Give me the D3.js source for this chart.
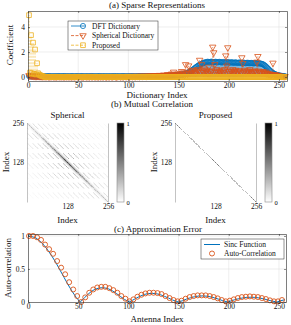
<!DOCTYPE html>
<html>
<head>
<meta charset="utf-8">
<script src="https://cdn.jsdelivr.net/npm/d3@7"></script>
<style>
  body { margin: 0; background: #fff; }
  svg { display: block; font-family: "Liberation Serif", "DejaVu Serif", serif; }
</style>
</head>
<body>
<div id="fig"></div>
<script>
// (a) sparse coefficients, one value per dictionary atom (1..256)
const dictIndex = d3.range(1, 257);

const dftCoef = [
  0.08,0.05,0.06,0.04,0.07,0.05,0.06,0.04,0.05,0.06,0.04,0.05,0.07,0.05,0.04,0.06,
  0.05,0.04,0.06,0.05,0.07,0.04,0.05,0.06,0.04,0.05,0.06,0.05,0.04,0.07,0.05,0.06,
  0.04,0.06,0.05,0.07,0.05,0.04,0.06,0.05,0.05,0.04,0.06,0.07,0.05,0.04,0.05,0.06,
  0.06,0.05,0.04,0.05,0.07,0.06,0.05,0.04,0.06,0.05,0.05,0.06,0.04,0.05,0.07,0.05,
  0.05,0.06,0.05,0.04,0.06,0.05,0.07,0.05,0.04,0.06,0.05,0.05,0.06,0.04,0.05,0.06,
  0.04,0.05,0.06,0.05,0.05,0.07,0.04,0.06,0.05,0.05,0.06,0.04,0.05,0.07,0.06,0.05,
  0.06,0.04,0.05,0.06,0.05,0.05,0.06,0.07,0.05,0.04,0.06,0.05,0.06,0.05,0.07,0.06,
  0.05,0.06,0.07,0.05,0.06,0.06,0.05,0.07,0.06,0.05,0.07,0.06,0.06,0.07,0.05,0.06,
  0.06,0.05,0.07,0.06,0.08,0.07,0.06,0.08,0.09,0.08,0.10,0.09,0.11,0.10,0.12,0.11,
  0.13,0.12,0.14,0.15,0.14,0.16,0.18,0.17,0.20,0.22,0.21,0.25,0.28,0.30,0.34,0.38,
  0.42,0.47,0.52,0.58,0.63,0.70,0.76,0.82,0.88,0.93,0.98,1.02,1.06,1.10,1.13,1.16,
  1.18,1.20,1.22,1.20,1.19,1.21,1.23,1.20,1.18,1.20,1.22,1.19,1.17,1.20,1.21,1.18,
  1.16,1.18,1.20,1.17,1.15,1.18,1.19,1.16,1.14,1.17,1.18,1.15,1.13,1.16,1.17,1.14,
  1.12,1.15,1.16,1.13,1.11,1.14,1.15,1.12,1.10,1.13,1.14,1.11,1.10,1.12,1.13,1.10,
  1.09,1.11,1.12,1.10,1.09,1.10,1.08,1.07,1.05,1.02,0.97,0.91,0.84,0.76,0.68,0.60,
  0.52,0.45,0.38,0.32,0.27,0.23,0.20,0.17,0.15,0.13,0.11,0.10,0.09,0.08,0.07,0.06
];

const sphericalCoef = [
  0.12,0.08,0.15,0.06,0.10,0.05,0.09,0.04,0.07,0.05,0.08,0.04,0.06,0.03,0.05,0.04,
  0.05,0.03,0.06,0.04,0.02,0.05,0.03,0.06,0.04,0.03,0.05,0.02,0.04,0.06,0.03,0.05,
  0.03,0.05,0.04,0.02,0.06,0.03,0.05,0.04,0.03,0.06,0.02,0.04,0.05,0.03,0.04,0.06,
  0.04,0.02,0.05,0.06,0.03,0.04,0.02,0.05,0.06,0.03,0.04,0.05,0.02,0.06,0.04,0.03,
  0.06,0.04,0.03,0.05,0.04,0.02,0.06,0.03,0.05,0.04,0.03,0.06,0.04,0.02,0.05,0.04,
  0.03,0.06,0.04,0.03,0.05,0.06,0.04,0.02,0.04,0.05,0.06,0.03,0.05,0.04,0.03,0.06,
  0.05,0.04,0.06,0.04,0.03,0.05,0.07,0.04,0.06,0.05,0.04,0.07,0.05,0.06,0.04,0.08,
  0.06,0.05,0.08,0.06,0.07,0.05,0.09,0.06,0.08,0.07,0.10,0.06,0.09,0.08,0.12,0.07,
  0.10,0.08,0.14,0.09,0.12,0.10,0.16,0.11,0.14,0.12,0.20,0.10,0.18,0.15,0.25,0.12,
  0.40,0.15,0.20,0.12,0.25,0.10,0.18,0.30,0.45,0.20,0.35,0.15,1.00,0.30,0.25,0.90,
  0.40,0.30,0.50,0.35,0.55,0.40,0.30,0.45,0.60,0.50,1.35,0.40,1.00,0.50,0.35,0.65,
  0.40,0.55,0.30,0.80,0.45,0.35,0.50,2.40,1.95,1.00,0.40,0.60,0.35,0.50,0.45,0.30,
  0.55,0.40,0.35,0.60,1.70,0.88,2.35,0.45,0.30,0.50,0.40,0.60,0.35,0.45,0.55,0.30,
  0.40,0.50,0.48,0.35,1.55,1.10,0.40,0.55,0.30,0.45,0.50,0.35,0.60,0.40,0.30,0.45,
  0.35,0.50,0.40,1.20,1.65,0.48,0.35,0.40,0.30,0.45,0.35,0.30,0.40,0.25,0.30,0.20,
  0.25,0.15,0.20,1.12,0.15,0.20,0.10,0.15,0.08,0.10,0.06,0.08,0.05,0.06,0.04,0.05
];

const proposedCoef = [
  4.95,0.35,3.35,0.30,2.75,0.25,2.20,0.20,1.10,0.30,0.20,0.15,0.10,0.08,0.05,0.03,
  0,0,0,0,0,0,0,0,0,0,0,0,0,0,0,0,
  0,0,0,0,0,0,0,0,0,0,0,0,0,0,0,0,
  0,0,0,0,0,0,0,0,0,0,0,0,0,0,0,0,
  0,0,0,0,0,0,0,0,0,0,0,0,0,0,0,0,
  0,0,0,0,0,0,0,0,0,0,0,0,0,0,0,0,
  0,0,0,0,0,0,0,0,0,0,0,0,0,0,0,0,
  0,0,0,0,0,0,0,0,0,0,0,0,0,0,0,0,
  0,0,0,0,0,0,0,0,0,0,0,0,0,0,0,0,
  0,0,0,0,0,0,0,0,0,0,0,0,0,0,0,0,
  0,0,0,0,0,0,0,0,0,0,0,0,0,0,0,0,
  0,0,0,0,0,0,0,0,0,0,0,0,0,0,0,0,
  0,0,0,0,0,0,0,0,0,0,0,0,0,0,0,0,
  0,0,0,0,0,0,0,0,0,0,0,0,0,0,0,0,
  0,0,0,0,0,0,0,0,0,0,0,0,0,0,0,0,
  0,0,0,0,0,0,0,0,0,0,0,0,0,0,0,0
];

// (b) mutual correlation of the spherical dictionary
// level of the side diagonals, by offset |r - c| / 16
const sphBlockLevel = [1, 0.42, 0.34, 0.28, 0.23, 0.19, 0.16, 0.13, 0.11, 0.09, 0.07, 0.06, 0.05, 0.04, 0.03, 0.03];
// dash profile along a row band of 32 atoms
const sphDashLevel = [0, 0.5, 1, 1, 1, 1, 1, 1, 1, 1, 1, 1, 1, 1, 1, 1,
  1, 1, 1, 1, 0.5, 0, 0, 0, 0, 0, 0, 0, 0, 0, 0, 0];
// strength along the main diagonal, by (r + c) / 32
const sphCenterLevel = [0.45, 0.5, 0.55, 0.62, 0.72, 0.85, 0.95, 1, 1, 0.95, 0.85, 0.72, 0.62, 0.55, 0.5, 0.45];
// halo around the main diagonal, by |r - c|
const sphHaloLevel = [1, 0.5, 0.38, 0.3, 0.24, 0.19, 0.15, 0.12, 0.09, 0.07, 0.05];
const propDiagLevel = 1;

// (c) approximation error
const sincIdx = [0,4,8,12,16,20,24,28,32,36,40,44,48,52,56,60,64,68,72,76,80,84,88,92,96,101,
  104,108,112,116,120,124,128,132,136,140,144,150,154,158,162,166,170,174,178,182,186,190,194,199,
  202,206,210,214,218,222,226,230,234,238,242,248,252,256];
const sincVal = [1,0.99,0.97,0.92,0.86,0.78,0.69,0.59,0.48,0.37,0.26,0.16,0.07,0,
  0.06,0.12,0.17,0.2,0.215,0.215,0.2,0.17,0.13,0.085,0.04,0,
  0.025,0.06,0.09,0.115,0.128,0.13,0.125,0.11,0.085,0.06,0.03,0,
  0.02,0.045,0.065,0.08,0.09,0.092,0.088,0.078,0.062,0.042,0.02,0,
  0.015,0.035,0.05,0.062,0.07,0.072,0.07,0.062,0.05,0.035,0.018,0,
  0.02,0.035];
const acIdx = [1,5,9,13,17,21,25,29,33,37,41,45,49,53,57,61,65,69,73,77,81,85,89,93,97,101,
  105,109,113,117,121,125,129,133,137,141,145,149,153,157,161,165,169,173,177,181,185,189,193,197,
  201,205,209,213,217,221,225,229,233,237,241,245,249,253];
const acVal = [1,1,0.98,0.94,0.87,0.8,0.73,0.62,0.52,0.42,0.3,0.19,0.09,0,
  0.07,0.14,0.19,0.22,0.23,0.23,0.21,0.18,0.14,0.09,0.05,0.01,
  0.04,0.08,0.11,0.13,0.14,0.14,0.135,0.12,0.09,0.06,0.03,0.01,
  0.02,0.05,0.075,0.09,0.1,0.1,0.1,0.09,0.075,0.055,0.03,0.01,
  0.02,0.04,0.06,0.075,0.08,0.085,0.08,0.075,0.06,0.045,0.025,0.01,
  0.01,0.03];

const blue = "#0072BD", orange = "#D95319", yellow = "#EDB120";
const ink = "#262626", gridColor = "#e2e2e2";

const svg = d3.select("#fig").append("svg")
  .attr("width", 291)
  .attr("height", 325);

function grid(x, y, xTicks, yTicks) {
  const [xl, xr] = x.range(), [yb, yt] = y.range();
  const g = svg.append("g").attr("stroke", gridColor).attr("stroke-width", 0.6);
  g.selectAll(null).data(xTicks).join("line")
    .attr("x1", d => x(d)).attr("x2", d => x(d)).attr("y1", yb).attr("y2", yt);
  g.selectAll(null).data(yTicks).join("line")
    .attr("y1", d => y(d)).attr("y2", d => y(d)).attr("x1", xl).attr("x2", xr);
}

function frame(x, y, xTicks, yTicks, yFmt, opts = {}) {
  const [xl, xr] = x.range(), [yb, yt] = y.range();
  const tk = opts.tick === undefined ? -2 : opts.tick;
  const color = opts.color || ink;
  const axes = [
    svg.append("g").attr("transform", `translate(0,${yb})`)
      .call(d3.axisBottom(x).tickValues(xTicks).tickSizeInner(tk).tickSizeOuter(0).tickPadding(2)),
    svg.append("g").attr("transform", `translate(${xl},0)`)
      .call(d3.axisLeft(y).tickValues(yTicks).tickSizeInner(tk).tickSizeOuter(0).tickPadding(3).tickFormat(yFmt)),
    svg.append("g").attr("transform", `translate(0,${yt})`)
      .call(d3.axisTop(x).tickValues(xTicks).tickSizeInner(tk).tickSizeOuter(0).tickFormat("")),
    svg.append("g").attr("transform", `translate(${xr},0)`)
      .call(d3.axisRight(y).tickValues(yTicks).tickSizeInner(tk).tickSizeOuter(0).tickFormat(""))
  ];
  axes.forEach((a, i) => {
    a.attr("font-family", null).attr("font-size", 7.5);
    a.selectAll("line").attr("stroke", color).attr("stroke-width", 0.5);
    a.select(".domain").attr("stroke", color).attr("stroke-width", 0.6);
    if (opts.sidesOnly && i % 2 === 0) a.select(".domain").remove();
    a.selectAll("text").attr("fill", "#111");
  });
}

function label(text, x, y, size, rotate) {
  svg.append("text")
    .attr("transform", `translate(${x},${y})` + (rotate ? " rotate(-90)" : ""))
    .attr("text-anchor", "middle")
    .attr("dy", "0.35em")
    .attr("font-size", size)
    .attr("fill", "#111")
    .text(text);
}

// ---------- (a) Sparse Representations ----------
const xA = d3.scaleLinear().domain([0, 258]).range([28, 287]);
const yA = d3.scaleLinear().domain([-0.32, 5.28]).range([81, 11]);
grid(xA, yA, [50, 100, 150, 200, 250], [2, 4]);

const series = [
  { name: "DFT Dictionary", values: dftCoef, color: blue, dash: null, shape: "circle" },
  { name: "Spherical Dictionary", values: sphericalCoef, color: orange, dash: "2,1.2", shape: "triangle" },
  { name: "Proposed", values: proposedCoef, color: yellow, dash: "2,1.2", shape: "square" }
];

const triangleDown = d3.symbol().type(d3.symbolTriangle).size(18)();
const square = d3.symbol().type(d3.symbolSquare).size(22)();

function marker(sel, s) {
  if (s.shape === "circle") {
    sel.append("circle").attr("r", 2.6);
  } else {
    sel.append("path").attr("d", s.shape === "triangle" ? triangleDown : square)
      .attr("transform", s.shape === "triangle" ? "rotate(180)" : null);
  }
  sel.attr("fill", "none").attr("stroke", s.color).attr("stroke-width", 0.8);
}

series.forEach(s => {
  const g = svg.append("g");
  g.selectAll("line")
    .data(s.values)
    .join("line")
    .attr("x1", (d, i) => xA(dictIndex[i]))
    .attr("x2", (d, i) => xA(dictIndex[i]))
    .attr("y1", yA(0))
    .attr("y2", d => yA(d))
    .attr("stroke", s.color)
    .attr("stroke-width", 0.6)
    .attr("stroke-dasharray", s.dash);
  g.selectAll("g")
    .data(s.values)
    .join("g")
    .attr("transform", (d, i) => `translate(${xA(dictIndex[i])},${yA(d)})`)
    .each(function () { marker(d3.select(this), s); });
});

frame(xA, yA, [0, 50, 100, 150, 200, 250], [0, 2, 4], d3.format("d"));

const legA = svg.append("g").attr("transform", "translate(68,21)");
legA.append("rect").attr("width", 90).attr("height", 29)
  .attr("fill", "#fff").attr("stroke", ink).attr("stroke-width", 0.5);
series.forEach((s, i) => {
  const row = legA.append("g").attr("transform", `translate(0,${5 + i * 9.6})`);
  row.append("line").attr("x1", 3).attr("x2", 17)
    .attr("stroke", s.color).attr("stroke-width", 0.8).attr("stroke-dasharray", s.dash ? "3,1.5" : null);
  marker(row.append("g").attr("transform", "translate(15,0)"), s);
  row.append("text").attr("x", 24).attr("dy", "0.35em")
    .attr("font-size", 7.5).attr("fill", "#111").text(s.name);
});

label("(a) Sparse Representations", 157, 5, 9);
label("Dictionary Index", 157, 95, 9);
label("Coefficient", 10, 45, 9, true);

// ---------- (b) Mutual Correlation ----------
const N = 256;
const sphCorr = [], propCorr = [];
for (let r = 0; r < N; r++) {
  const sRow = [], pRow = [];
  for (let c = 0; c < N; c++) {
    const k = Math.abs(r - c);
    const along = sphCenterLevel[Math.min(15, (r + c) >> 5)];
    let v = k < sphHaloLevel.length ? sphHaloLevel[k] * (k ? along * along : along) : 0;
    const m = Math.round(k / 16), d = Math.abs(k - 16 * m);
    if (m > 0 && d <= 1) {
      v = Math.max(v, sphBlockLevel[Math.min(15, m)] * sphDashLevel[r & 31] * (d ? 0.6 : 1) * along);
    }
    sRow.push(v);
    pRow.push(r === c ? propDiagLevel : 0);
  }
  sphCorr.push(sRow);
  propCorr.push(pRow);
}

const gray = d3.scaleLinear().domain([0, 1]).range(["#ffffff", "#000000"]).clamp(true);

const defs = svg.append("defs");
const grad = defs.append("linearGradient").attr("id", "cbar")
  .attr("x1", 0).attr("y1", 1).attr("x2", 0).attr("y2", 0);
grad.selectAll("stop").data([0, 0.25, 0.5, 0.75, 1]).join("stop")
  .attr("offset", d => d).attr("stop-color", d => gray(d));

function heatmap(matrix, left, title) {
  const top = 123, w = 81, h = 79;
  const x = d3.scaleLinear().domain([0, N]).range([left, left + w]);
  const y = d3.scaleLinear().domain([0, N]).range([top + h, top]);
  const canvas = document.createElement("canvas");
  canvas.width = w; canvas.height = h;
  const ctx = canvas.getContext("2d");
  const img = ctx.createImageData(w, h);
  const ss = [0.25, 0.75];
  for (let py = 0; py < h; py++) {
    for (let px = 0; px < w; px++) {
      let sum = 0;
      ss.forEach(sy => ss.forEach(sx => {
        const row = N - 1 - Math.min(N - 1, Math.floor(y.invert(top + py + sy)));
        const col = Math.min(N - 1, Math.floor(x.invert(left + px + sx)));
        sum += matrix[row][col];
      }));
      const c = d3.rgb(gray(sum / 4));
      const o = (py * w + px) * 4;
      img.data[o] = c.r; img.data[o + 1] = c.g; img.data[o + 2] = c.b; img.data[o + 3] = 255;
    }
  }
  ctx.putImageData(img, 0, 0);
  svg.append("image").attr("href", canvas.toDataURL())
    .attr("x", left).attr("y", top).attr("width", w).attr("height", h)
    .attr("preserveAspectRatio", "none");

  frame(x, y, [128, 256], [128, 256], d3.format("d"), { tick: 0, color: "#9a9a9a", sidesOnly: true });

  // colorbar
  const cb = d3.scaleLinear().domain([0, 1]).range([top + h, top]);
  svg.append("rect").attr("x", left + 90).attr("y", top).attr("width", 7).attr("height", h)
    .attr("fill", "url(#cbar)").attr("stroke", "#8a8a8a").attr("stroke-width", 0.6);
  svg.append("g").attr("transform", `translate(${left + 97},0)`)
    .call(d3.axisRight(cb).tickValues([0, 1]).tickSize(0).tickPadding(2.5).tickFormat(d3.format("d")))
    .call(g => g.select(".domain").remove())
    .attr("font-family", null).attr("font-size", 6.5);

  label(title, left + 40.5, 115, 9);
  label("Index", left + 40.5, 220, 9);
  label("Index", left - 21, 162, 9, true);
}

heatmap(sphCorr, 27, "Spherical");
heatmap(propCorr, 175, "Proposed");
label("(b) Mutual Correlation", 152, 103.5, 9);

// ---------- (c) Approximation Error ----------
const xC = d3.scaleLinear().domain([0, 257]).range([28, 286]);
const yC = d3.scaleLinear().domain([0, 1.03]).range([302, 234]);
grid(xC, yC, [50, 100, 150, 200, 250], [0.5, 1]);

svg.append("path")
  .datum(sincIdx.map((d, i) => [d, sincVal[i]]))
  .attr("d", d3.line().x(d => xC(d[0])).y(d => yC(d[1])))
  .attr("fill", "none")
  .attr("stroke", blue)
  .attr("stroke-width", 1);

svg.append("g").selectAll("circle")
  .data(acVal)
  .join("circle")
  .attr("cx", (d, i) => xC(acIdx[i]))
  .attr("cy", d => yC(d))
  .attr("r", 2.5)
  .attr("fill", "none")
  .attr("stroke", orange)
  .attr("stroke-width", 0.9);

frame(xC, yC, [0, 50, 100, 150, 200, 250], [0, 0.5, 1], d => d === 0.5 ? "0.5" : d3.format("d")(d));

const legC = svg.append("g").attr("transform", "translate(201,239)");
legC.append("rect").attr("width", 83).attr("height", 20)
  .attr("fill", "#fff").attr("stroke", ink).attr("stroke-width", 0.5);
legC.append("line").attr("x1", 3).attr("x2", 19).attr("y1", 5.5).attr("y2", 5.5)
  .attr("stroke", blue).attr("stroke-width", 1);
legC.append("circle").attr("cx", 11).attr("cy", 14.5).attr("r", 2.5)
  .attr("fill", "none").attr("stroke", orange).attr("stroke-width", 0.9);
legC.selectAll("text").data(["Sinc Function", "Auto-Correlation"]).join("text")
  .attr("x", 23).attr("y", (d, i) => 5.5 + i * 9).attr("dy", "0.35em")
  .attr("font-size", 7.5).attr("fill", "#111").text(d => d);

label("(c) Approximation Error", 158, 229, 9);
label("Antenna Index", 157, 318.5, 9);
label("Auto-correlation", 8, 268, 9, true);
</script>
</body>
</html>
